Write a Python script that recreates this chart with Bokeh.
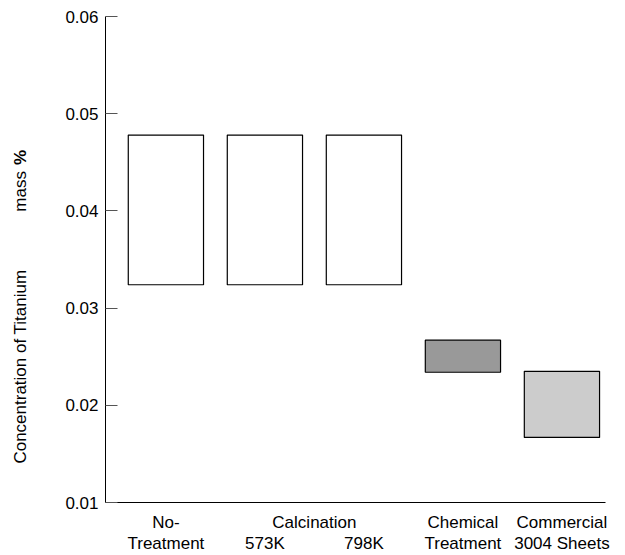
from bokeh.plotting import figure
from bokeh.layouts import row
from bokeh.models import (LinearAxis, FixedTicker, PrintfTickFormatter,
                          Range1d, ColumnDataSource)
from bokeh.core.properties import value
from bokeh.embed import file_html
from bokeh.resources import INLINE
import math

# ---- data ----
categories = ["No-Treatment", "Calcination 573K", "Calcination 798K",
              "Chemical Treatment", "Commercial 3004 Sheets"]
x_pos = [0, 1, 2, 3, 4]
low = [0.0324, 0.0324, 0.0324, 0.0234, 0.0167]
high = [0.0478, 0.0478, 0.0478, 0.0267, 0.0235]
fills = ["#ffffff", "#ffffff", "#ffffff", "#999999", "#cccccc"]

tick_pos = [0, 1, 1.5, 2, 3, 4]
tick_labels = ["No-\nTreatment", "\n573K", "Calcination\n", "\n798K",
               "Chemical\nTreatment", "Commercial\n3004 Sheets"]

y_ticks = [0.01, 0.02, 0.03, 0.04, 0.05, 0.06]

y_title_main = "Concentration of Titanium"
y_title_unit = "mass"
y_title_pct = "%"

FONT = "Liberation Sans"
FS = "17px"
H = 555
LEFT_W = 40
FRAME_LEFT = 105
FRAME_TOP = 16
FRAME_BOTTOM = 504

# ---- left strip holding the y-axis title (its frame is aligned with the main frame;
#      its y range is expressed in page pixels, top to bottom) ----
pl = figure(width=LEFT_W, height=H, output_backend="svg", toolbar_location=None,
            x_range=Range1d(0, LEFT_W), y_range=Range1d(FRAME_BOTTOM, FRAME_TOP),
            min_border_left=0, min_border_right=0, min_border_top=FRAME_TOP,
            min_border_bottom=H - FRAME_BOTTOM,
            x_axis_location=None, y_axis_location=None)
pl.outline_line_color = None
pl.xgrid.visible = False
pl.ygrid.visible = False
pl.text(x=[20], y=[367.5], text=[y_title_main], angle=math.pi / 2,
        text_align="center", text_baseline="middle", text_font=value(FONT),
        text_font_size=FS, text_color="black")
pl.text(x=[20], y=[212], text=[y_title_unit], angle=math.pi / 2,
        text_align="left", text_baseline="middle", text_font=value(FONT),
        text_font_size=FS, text_color="black")
pl.text(x=[20], y=[165], text=[y_title_pct], angle=math.pi / 2,
        text_align="left", text_baseline="middle", text_font=value(FONT),
        text_font_size=FS, text_font_style="bold", text_color="black")

# ---- main chart ----
src = ColumnDataSource(dict(x=x_pos, low=low, high=high, fill=fills, cat=categories))

p = figure(width=620 - LEFT_W, height=H, output_backend="svg", toolbar_location=None,
           x_range=Range1d(-0.61, 4.44), y_range=Range1d(0.01, 0.06),
           min_border_left=FRAME_LEFT - LEFT_W, min_border_right=15,
           min_border_top=FRAME_TOP, min_border_bottom=H - FRAME_BOTTOM,
           x_axis_location=None, y_axis_location=None)
p.outline_line_color = None
p.xgrid.visible = False
p.ygrid.visible = False
p.background_fill_color = "white"
p.border_fill_color = "white"

p.vbar(x="x", width=0.76, bottom="low", top="high", fill_color="fill",
       line_color="black", line_width=1.2, source=src)

ya = LinearAxis(ticker=FixedTicker(ticks=y_ticks),
                formatter=PrintfTickFormatter(format="%.2f"))
ya.major_tick_in = 12
ya.major_tick_out = 0
ya.minor_tick_line_color = None
ya.major_tick_line_color = "#555555"
ya.axis_line_color = "black"
ya.major_label_standoff = 7
ya.major_label_text_font = FONT
ya.major_label_text_font_size = FS
ya.major_label_text_color = "black"
p.add_layout(ya, "left")

xa = LinearAxis(ticker=FixedTicker(ticks=tick_pos),
                major_label_overrides={k: v for k, v in zip(tick_pos, tick_labels)})
xa.major_tick_line_color = None
xa.minor_tick_line_color = None
xa.axis_line_color = "black"
xa.major_label_standoff = 4
xa.major_label_text_font = FONT
xa.major_label_text_font_size = FS
xa.major_label_text_color = "black"
xa.major_label_text_line_height = 1.12
p.add_layout(xa, "below")

layout = row(pl, p, spacing=0)

open("out.html", "w").write(file_html(layout, INLINE))
